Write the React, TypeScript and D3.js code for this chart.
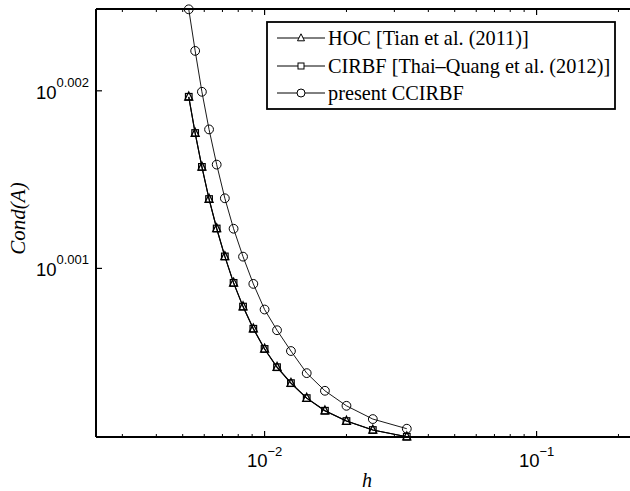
import React from "react";
import * as d3 from "d3";

const hValues = [0.005263, 0.005556, 0.005882, 0.00625, 0.006667, 0.007143, 0.007692, 0.008333, 0.009091, 0.01, 0.011111, 0.0125, 0.014286, 0.016667, 0.02, 0.025, 0.033333];
const condHOC = [1.004538, 1.004066, 1.003625, 1.003207, 1.002824, 1.002461, 1.002117, 1.001809, 1.001521, 1.001259, 1.001022, 1.000815, 1.000621, 1.000457, 1.000323, 1.000207, 1.00012];
const condCIRBF = [1.004538, 1.004066, 1.003625, 1.003207, 1.002824, 1.002461, 1.002117, 1.001809, 1.001521, 1.001259, 1.001022, 1.000815, 1.000621, 1.000457, 1.000323, 1.000207, 1.00012];
const condCCIRBF = [1.005678, 1.005136, 1.004603, 1.004113, 1.003655, 1.003217, 1.002821, 1.002458, 1.002104, 1.001771, 1.001502, 1.001232, 1.000945, 1.000716, 1.000521, 1.000349, 1.000224];
const legendLabels = ["HOC [Tian et al. (2011)]", "CIRBF [Thai\u2013Quang et al. (2012)]", "present CCIRBF"];
const xMajorTicks = [0.01, 0.1];
const xMajorExp = ["\u22122", "\u22121"];
const xMinorTicks = [0.003, 0.004, 0.005, 0.006, 0.007, 0.008, 0.009, 0.02, 0.03, 0.04, 0.05, 0.06, 0.07, 0.08, 0.09, 0.2];
const yTickExp = ["0.001", "0.002"];

const W = 630, H = 491;
const left = 96, top = 9, bottom = 437;

export default function App() {
  const x = d3.scaleLog().domain([0.0024, 0.24]).range([left, left + 544]);
  const y = d3.scaleLog().domain([1.0001165, 1.005682]).range([bottom, top]);
  const right = W;

  const line = d3.line<[number, number]>().x(d => x(d[0])).y(d => y(d[1]));
  const pts = (vals: number[]) => hValues.map((h, i) => [h, vals[i]] as [number, number]);

  const tri = (cx: number, cy: number, s: number) =>
    `M${cx},${cy - s * 0.6}L${cx + s * 0.5},${cy + s * 0.4}L${cx - s * 0.5},${cy + s * 0.4}Z`;

  const yTickVals = yTickExp.map(e => Math.pow(10, parseFloat(e)));

  const serif = "'Liberation Serif', 'Times New Roman', serif";
  const sans = "'Liberation Sans', Arial, sans-serif";

  const lx0 = 277, lx1 = 325, lxm = 301;
  const rowsY = [38, 66, 93];

  return (
    <svg width={W} height={H} style={{ position: "absolute", left: 0, top: 0, background: "#fff" }}>
      <rect x={0} y={0} width={W} height={H} fill="#fff" />
      {/* series lines */}
      <path d={line(pts(condHOC)) || ""} fill="none" stroke="#000" strokeWidth={1.1} />
      <path d={line(pts(condCIRBF)) || ""} fill="none" stroke="#000" strokeWidth={1.1} />
      <path d={line(pts(condCCIRBF)) || ""} fill="none" stroke="#000" strokeWidth={0.9} />
      {/* markers */}
      {pts(condHOC).map((d, i) => (
        <path key={"t" + i} d={tri(x(d[0]), y(d[1]), 8)} fill="none" stroke="#000" strokeWidth={1.3} />
      ))}
      {pts(condCIRBF).map((d, i) => (
        <rect key={"s" + i} x={x(d[0]) - 3.3} y={y(d[1]) - 3.3} width={6.6} height={6.6} fill="none" stroke="#000" strokeWidth={1.2} />
      ))}
      {pts(condCCIRBF).map((d, i) => (
        <circle key={"c" + i} cx={x(d[0])} cy={y(d[1])} r={4.4} fill="none" stroke="#000" strokeWidth={1} />
      ))}

      {/* axes box */}
      <line x1={left} x2={right} y1={top} y2={top} stroke="#000" strokeWidth={2} />
      <line x1={left} x2={right} y1={bottom} y2={bottom} stroke="#000" strokeWidth={2} />
      <line x1={left} x2={left} y1={top} y2={bottom} stroke="#000" strokeWidth={2} />

      {/* x ticks */}
      {xMajorTicks.map((t, i) => (
        <g key={"xm" + i}>
          <line x1={x(t)} x2={x(t)} y1={bottom} y2={bottom - 6} stroke="#000" strokeWidth={1.2} />
          <line x1={x(t)} x2={x(t)} y1={top} y2={top + 6} stroke="#000" strokeWidth={1.2} />
          <text x={x(t)} y={467} textAnchor="middle" fontFamily={sans} fontSize={18.5} fill="#000">
            <tspan>10</tspan>
            <tspan fontSize={13} dy={-11}>{xMajorExp[i]}</tspan>
          </text>
        </g>
      ))}
      {xMinorTicks.map((t, i) => (
        <g key={"xn" + i}>
          <line x1={x(t)} x2={x(t)} y1={bottom} y2={bottom - 3} stroke="#000" strokeWidth={1} />
          <line x1={x(t)} x2={x(t)} y1={top} y2={top + 3} stroke="#000" strokeWidth={1} />
        </g>
      ))}

      {/* y ticks */}
      {yTickVals.map((t, i) => (
        <g key={"y" + i}>
          <line x1={left} x2={left + 6} y1={y(t)} y2={y(t)} stroke="#000" strokeWidth={1.2} />
          <text x={89} y={y(t) + 8} textAnchor="end" fontFamily={sans} fontSize={18.5} fill="#000">
            <tspan>10</tspan>
            <tspan fontSize={13} dy={-12}>{yTickExp[i]}</tspan>
          </text>
        </g>
      ))}

      {/* axis labels */}
      <text x={367} y={487} textAnchor="middle" fontFamily={serif} fontStyle="italic" fontSize={20} fill="#000">h</text>
      <text transform={`translate(25,218.5) rotate(-90)`} textAnchor="middle" fontFamily={serif} fontStyle="italic" fontSize={21} fill="#000">Cond(A)</text>

      {/* legend */}
      <rect x={267} y={22} width={348} height={87} fill="#fff" stroke="#000" strokeWidth={1.8} />
      {legendLabels.map((lab, i) => (
        <g key={"lg" + i}>
          <line x1={lx0} x2={lx1} y1={rowsY[i]} y2={rowsY[i]} stroke="#000" strokeWidth={1} />
          {i === 0 && <path d={tri(lxm, rowsY[i], 7)} fill="#fff" stroke="#000" strokeWidth={1} />}
          {i === 1 && <rect x={lxm - 3} y={rowsY[i] - 3} width={6} height={6} fill="#fff" stroke="#000" strokeWidth={1} />}
          {i === 2 && <circle cx={lxm} cy={rowsY[i]} r={4} fill="#fff" stroke="#000" strokeWidth={1} />}
          <text x={328} y={rowsY[i] + 6.5} fontFamily={serif} fontSize={20.3} fill="#000">{lab}</text>
        </g>
      ))}
    </svg>
  );
}
